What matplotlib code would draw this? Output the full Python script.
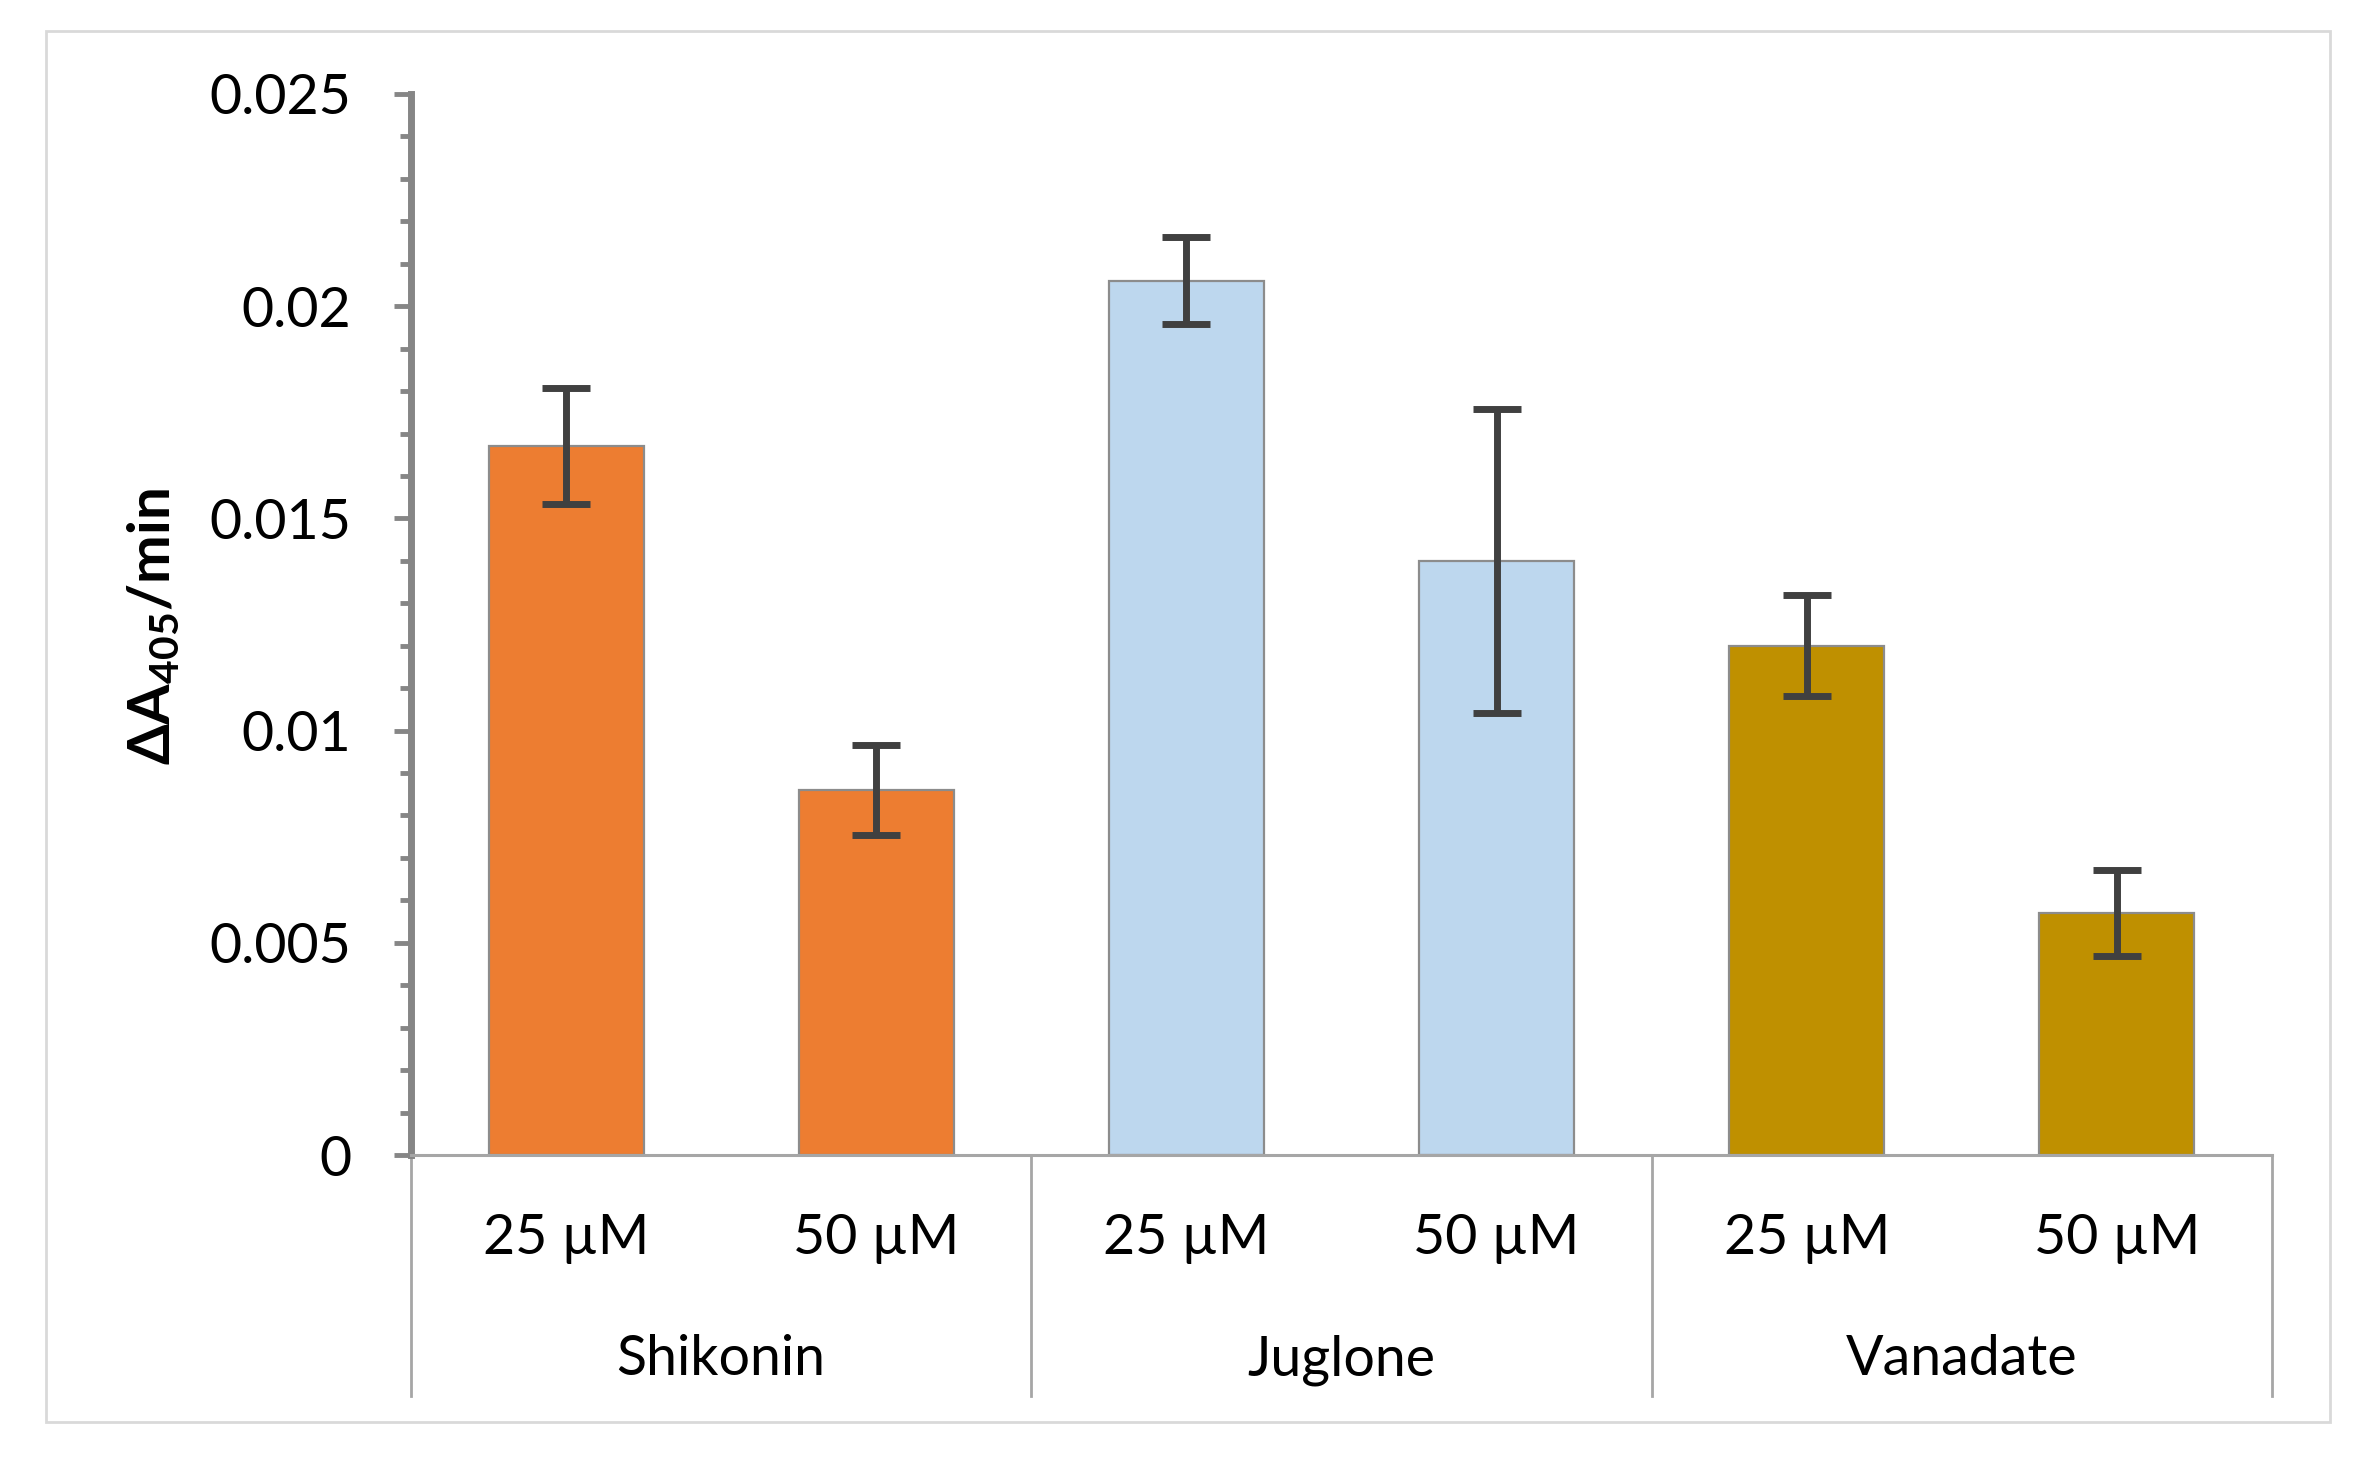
import matplotlib
matplotlib.use("Agg")
import matplotlib.pyplot as plt
from matplotlib.patches import Rectangle
import numpy as np

# ---- data ----
groups = ["Shikonin", "Juglone", "Vanadate"]
concentrations = ["25 µM", "50 µM"]
values = [0.0167, 0.0086, 0.0206, 0.0140, 0.0120, 0.0057]
errors = [0.00137, 0.00106, 0.00102, 0.00358, 0.00119, 0.00102]
group_colors = ["#ED7D31", "#BDD7EE", "#BF9000"]
y_ticks = [0, 0.005, 0.01, 0.015, 0.02, 0.025]
y_tick_labels = ["0", "0.005", "0.01", "0.015", "0.02", "0.025"]

plt.rcParams["font.family"] = ["Lato", "DejaVu Sans"]
plt.rcParams["mathtext.fontset"] = "custom"
plt.rcParams["mathtext.rm"] = "Lato"
plt.rcParams["mathtext.bf"] = "Lato:bold"
plt.rcParams["mathtext.fallback"] = "stixsans"

W, H = 2372, 1469
fig = plt.figure(figsize=(W / 100, H / 100), dpi=100)

# outer chart frame
fig.patches.append(Rectangle((46 / W, 1 - 1422 / H), (2330 - 46) / W, (1422 - 31) / H,
                             transform=fig.transFigure, fill=False,
                             edgecolor="#D9D9D9", linewidth=2))

left, right, top, bottom = 411, 2272, 94, 1155
ax = fig.add_axes([left / W, 1 - bottom / H, (right - left) / W, (bottom - top) / H])

n = len(values)
x = np.arange(n)
colors = [group_colors[i // 2] for i in range(n)]
ax.bar(x, values, width=0.5, color=colors, edgecolor="#8C8C8C", linewidth=1.6, zorder=2)
ax.errorbar(x, values, yerr=errors, fmt="none", ecolor="#404040", elinewidth=5,
            capsize=17, capthick=5, zorder=3)

ax.set_xlim(-0.5, n - 0.5)
ax.set_ylim(0, 0.025)

for s in ["top", "right"]:
    ax.spines[s].set_visible(False)
ax.spines["left"].set_color("#868686")
ax.spines["left"].set_linewidth(5)
ax.spines["bottom"].set_color("#A6A6A6")
ax.spines["bottom"].set_linewidth(2.2)

fs = 40
ax.set_yticks(y_ticks)
ax.set_yticklabels(y_tick_labels)
ax.set_yticks(np.arange(0, 0.0251, 0.001), minor=True)
ax.tick_params(axis="y", which="major", length=12, width=3.5, color="#868686",
               labelsize=fs, pad=31, direction="out")
ax.tick_params(axis="y", which="minor", length=8, width=3.5, color="#868686",
               direction="out")
ax.set_xticks([])

# category axis labels
tr = ax.get_xaxis_transform()
for i in range(n):
    ax.text(x[i], -0.0933, concentrations[i % 2], transform=tr, ha="center",
            va="baseline", fontsize=fs, color="black")
for g, name in enumerate(groups):
    ax.text(2 * g + 0.5, -0.2074, name, transform=tr, ha="center",
            va="baseline", fontsize=fs, color="black")
for b in [-0.5, 1.5, 3.5, 5.5]:
    ax.plot([b, b], [0, -0.227], transform=tr, color="#A6A6A6", linewidth=2,
            clip_on=False)

fig.text(153 / W, 1 - 627 / H, r"$\mathbf{\Delta A_{405}/min}$", rotation=90,
         ha="center", va="center", fontsize=42, color="black")

fig.savefig("out.png", dpi=100, facecolor="white")
